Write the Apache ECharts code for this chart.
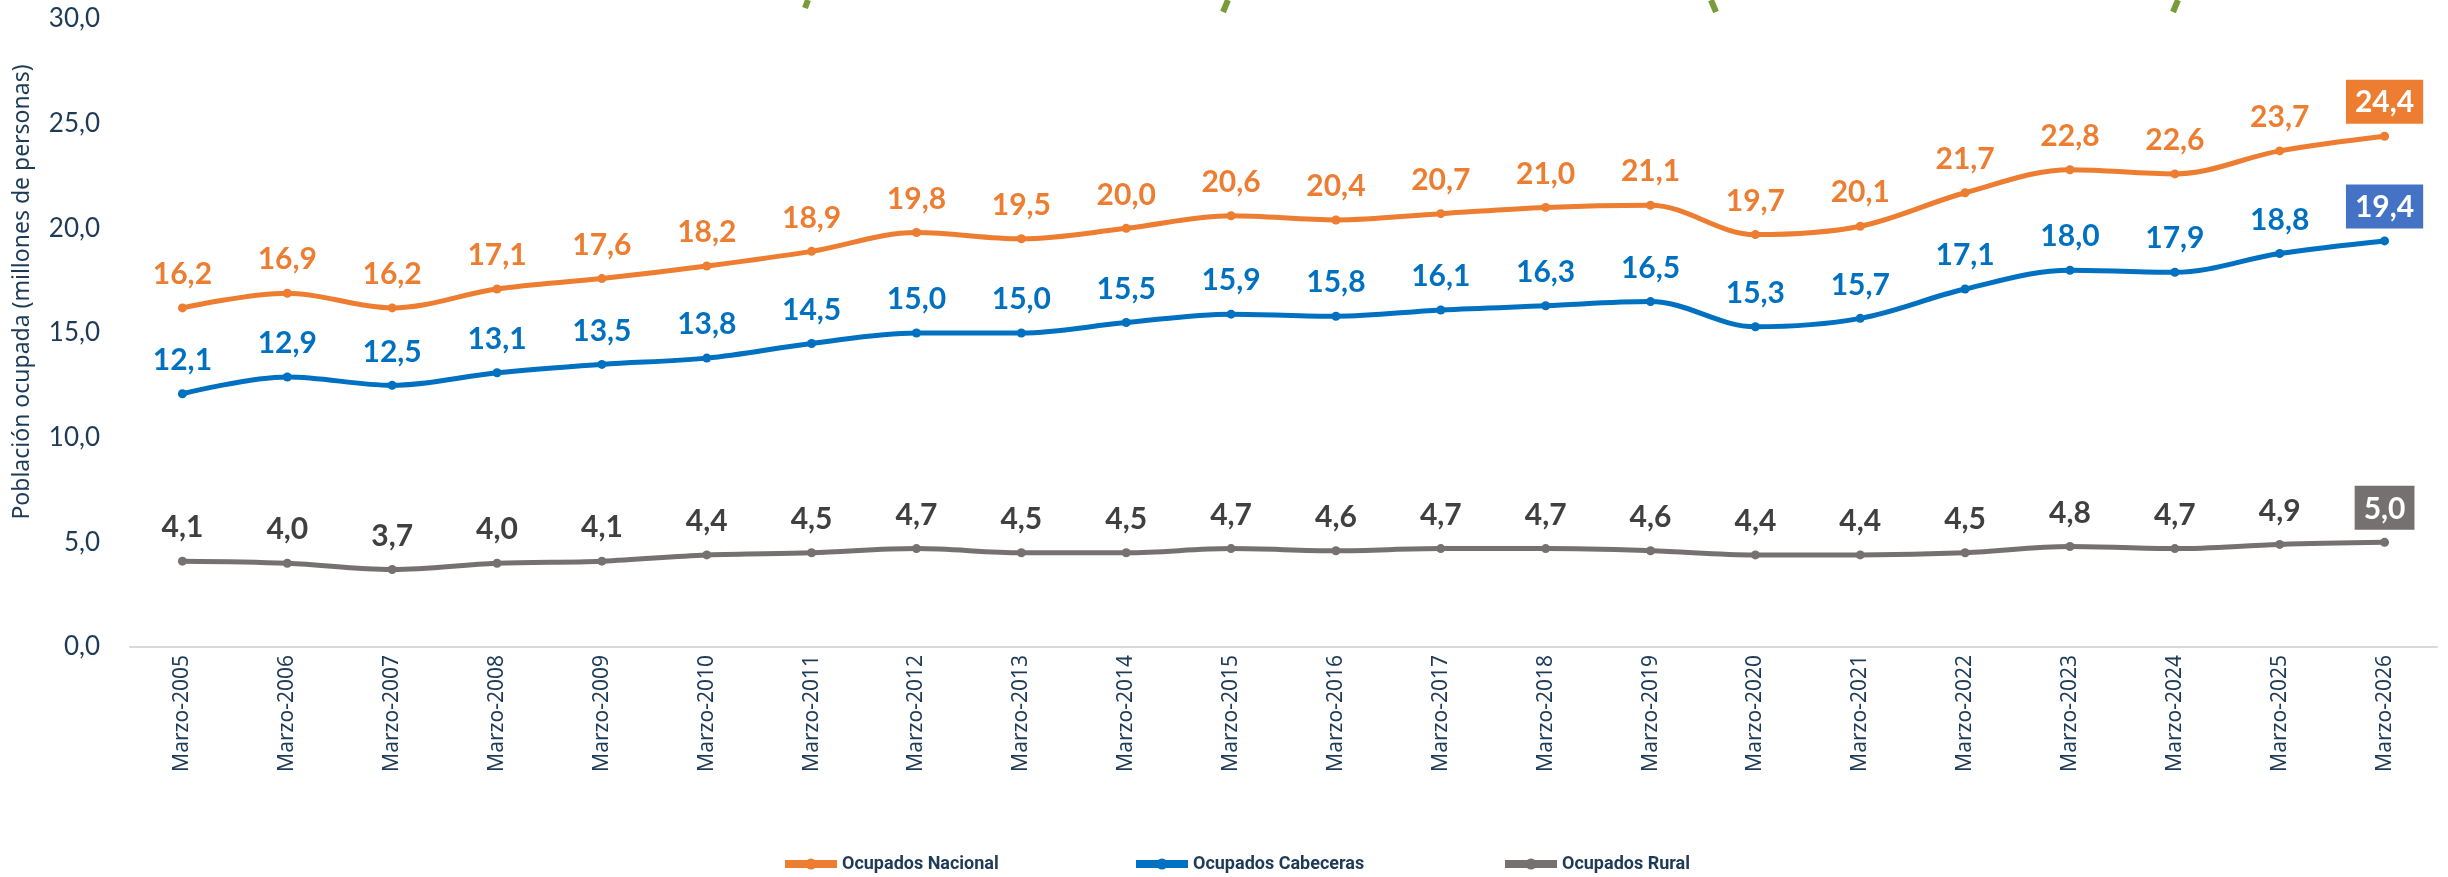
<!DOCTYPE html>
<html>
<head>
<meta charset="utf-8">
<script src="https://cdn.jsdelivr.net/npm/echarts@6/dist/echarts.min.js"></script>
<style>html,body{margin:0;padding:0;background:#fff}#c{width:2448px;height:877px}</style>
</head>
<body>
<div id="c"></div>
<script>
const categories = ['Marzo-2005','Marzo-2006','Marzo-2007','Marzo-2008','Marzo-2009','Marzo-2010','Marzo-2011','Marzo-2012','Marzo-2013','Marzo-2014','Marzo-2015','Marzo-2016','Marzo-2017','Marzo-2018','Marzo-2019','Marzo-2020','Marzo-2021','Marzo-2022','Marzo-2023','Marzo-2024','Marzo-2025','Marzo-2026'];
const nacional = [16.2,16.9,16.2,17.1,17.6,18.2,18.9,19.8,19.5,20.0,20.6,20.4,20.7,21.0,21.1,19.7,20.1,21.7,22.8,22.6,23.7,24.4];
const cabeceras = [12.1,12.9,12.5,13.1,13.5,13.8,14.5,15.0,15.0,15.5,15.9,15.8,16.1,16.3,16.5,15.3,15.7,17.1,18.0,17.9,18.8,19.4];
const rural = [4.1,4.0,3.7,4.0,4.1,4.4,4.5,4.7,4.5,4.5,4.7,4.6,4.7,4.7,4.6,4.4,4.4,4.5,4.8,4.7,4.9,5.0];
const yTicks = {min: 0, max: 30, interval: 5};

const fmt = v => v.toFixed(1).replace('.', ',');
const navy = '#1d3a56';

function mkData(arr, boxColor) {
  return arr.map((v, i) => {
    if (i === arr.length - 1) {
      return {value: v, label: {backgroundColor: boxColor, color: '#fff', padding: [8, 9, 6, 9], distance: 8}};
    }
    return v;
  });
}

function mkSeries(name, arr, color, labelColor, boxColor) {
  return {
    name: name,
    type: 'line',
    data: mkData(arr, boxColor),
    smooth: 0.35,
    symbol: 'circle',
    symbolSize: 9,
    lineStyle: {color: color, width: 5},
    itemStyle: {color: color},
    label: {
      show: true,
      position: 'top',
      distance: 14,
      color: labelColor,
      fontFamily: 'Lato',
      fontWeight: 'bold',
      fontSize: 30,
      formatter: p => fmt(p.value)
    },
    z: 3
  };
}

const chart = echarts.init(document.getElementById('c'), null, {renderer: 'canvas'});
const legendBase = {
  top: 850,
  itemWidth: 52,
  itemHeight: 14,
  lineStyle: {width: 8},
  textStyle: {color: navy, fontFamily: 'Roboto', fontWeight: 'bold', fontSize: 18}
};
chart.setOption({
  animation: false,
  backgroundColor: '#fff',
  grid: {left: 130, right: 11, top: 19, bottom: 230, containLabel: false},
  legend: [
    Object.assign({}, legendBase, {left: 776, data: ['Ocupados Nacional']}),
    Object.assign({}, legendBase, {left: 1127, data: ['Ocupados Cabeceras']}),
    Object.assign({}, legendBase, {left: 1496, data: ['Ocupados Rural']})
  ],
  xAxis: {
    type: 'category',
    data: categories,
    boundaryGap: true,
    axisLine: {show: true, lineStyle: {color: '#d9d9d9', width: 2}},
    axisTick: {show: false},
    axisLabel: {
      rotate: 90,
      margin: 8,
      color: navy,
      fontFamily: 'Noto Sans',
      fontSize: 21,
      interval: 0
    },
    splitLine: {show: false}
  },
  yAxis: {
    type: 'value',
    min: yTicks.min,
    max: yTicks.max,
    interval: yTicks.interval,
    axisLine: {show: false},
    axisTick: {show: false},
    splitLine: {show: false},
    axisLabel: {
      color: navy,
      fontFamily: 'Lato',
      fontSize: 26,
      margin: 30,
      formatter: v => fmt(v)
    }
  },
  graphic: [
    {
      type: 'text',
      x: 22, y: 292,
      rotation: Math.PI / 2,
      style: {
        text: 'Población ocupada (millones de personas)',
        fill: navy,
        font: '23px "Noto Sans"',
        align: 'center',
        verticalAlign: 'middle'
      }
    },
    {type: 'line', shape: {x1: 808, y1: 0, x2: 805, y2: 8}, style: {stroke: '#7a9b3a', lineWidth: 6}},
    {type: 'line', shape: {x1: 1228, y1: 0, x2: 1223, y2: 12}, style: {stroke: '#7a9b3a', lineWidth: 6}},
    {type: 'line', shape: {x1: 1711, y1: 0, x2: 1716, y2: 12}, style: {stroke: '#7a9b3a', lineWidth: 6}},
    {type: 'line', shape: {x1: 2178, y1: 0, x2: 2173, y2: 12}, style: {stroke: '#7a9b3a', lineWidth: 6}}
  ],
  series: [
    mkSeries('Ocupados Nacional', nacional, '#ED7D31', '#ED7D31', '#ED7D31'),
    mkSeries('Ocupados Cabeceras', cabeceras, '#0070C0', '#0070C0', '#4472C4'),
    mkSeries('Ocupados Rural', rural, '#767171', '#404040', '#767171')
  ]
});
</script>
</body>
</html>
